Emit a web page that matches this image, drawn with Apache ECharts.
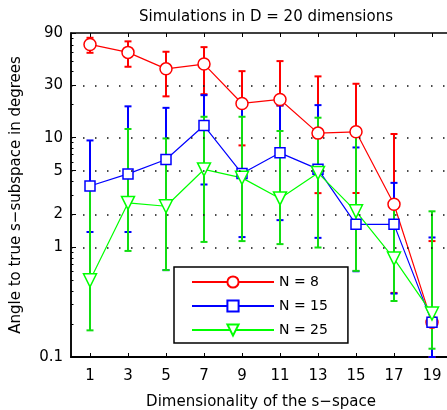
<!DOCTYPE html>
<html>
<head>
<meta charset="utf-8">
<script src="https://cdn.jsdelivr.net/npm/echarts@6/dist/echarts.min.js"></script>
<style>
  html, body { margin: 0; padding: 0; background: #fff; }
  #chart { width: 447px; height: 410px; }
</style>
</head>
<body>
<div id="chart"></div>
<script>
// dimensionality of the s-space
const dims = [1, 3, 5, 7, 9, 11, 13, 15, 17, 19]

// N = 8
const n8 = [70.8, 59.9, 42.4, 46.9, 20.5, 22.3, 11.0, 11.3, 2.47, 0.207]
const n8Lo = [59.4, 44.3, 23.8, 24.9, 8.5, 19.6, 3.12, 3.13, 0.384, 0.1]
const n8Hi = [81.4, 75.5, 60.7, 66.9, 40.4, 49.9, 36.2, 31.0, 10.8, 1.14]

// N = 15
const n15 = [3.62, 4.67, 6.32, 12.9, 4.71, 7.27, 5.16, 1.62, 1.62, 0.207]
const n15Lo = [1.38, 1.38, 0.62, 3.74, 1.24, 1.77, 1.22, 0.605, 0.379, 0.1]
const n15Hi = [9.43, 19.3, 18.7, 24.4, 19.4, 19.7, 19.8, 8.14, 3.87, 1.23]

// N = 25
const n25 = [0.5, 2.54, 2.37, 5.13, 4.3, 2.79, 4.77, 2.13, 0.79, 0.249]
const n25Lo = [0.175, 0.927, 0.62, 1.12, 1.14, 1.07, 0.996, 0.61, 0.324, 0.119]
const n25Hi = [3.6, 12.0, 9.84, 15.5, 15.5, 11.5, 15.2, 11.1, 2.54, 2.13]

const yTicks = [0.1, 1, 2, 5, 10, 30, 90]
const yMinorTicks = [0.2, 0.3, 0.4, 0.5, 0.6, 0.7, 0.8, 0.9, 3, 4, 6, 7, 8, 9, 20, 40, 50, 60, 70, 80]
const yGrid = [1, 2, 5, 10, 30]

const FONT = 'DejaVu Sans, sans-serif'

const chart = echarts.init(document.getElementById('chart'))

function errorBars(name, lo, hi, color) {
  return {
    name: name,
    type: 'custom',
    data: dims.map((d, i) => [d, lo[i], hi[i]]),
    encode: { x: 0, y: [1, 2] },
    silent: true,
    renderItem: function (params, api) {
      const x = api.value(0)
      const top = api.coord([x, api.value(2)])
      const bot = api.coord([x, api.value(1)])
      const w = 3.5
      const style = { stroke: color, lineWidth: 2 }
      return {
        type: 'group',
        children: [
          { type: 'line', shape: { x1: top[0], y1: top[1], x2: bot[0], y2: bot[1] }, style: style },
          { type: 'line', shape: { x1: top[0] - w, y1: top[1], x2: top[0] + w, y2: top[1] }, style: style },
          { type: 'line', shape: { x1: bot[0] - w, y1: bot[1], x2: bot[0] + w, y2: bot[1] }, style: style },
        ],
      }
    },
  }
}

function meanLine(name, vals, color, symbol, size, rotate) {
  return {
    name: name,
    type: 'line',
    data: dims.map((d, i) => [d, vals[i]]),
    symbol: symbol,
    symbolSize: size,
    symbolRotate: rotate || 0,
    showAllSymbol: true,
    lineStyle: { color: color, width: 1.2 },
    itemStyle: { color: '#fff', borderColor: color, borderWidth: 1.5 },
    emphasis: { disabled: true },
    silent: true,
  }
}

chart.setOption({
  animation: false,
  title: {
    text: 'Simulations in D = 20 dimensions',
    left: 261,
    textAlign: 'center',
    top: 5,
    textStyle: { fontFamily: FONT, fontSize: 15, fontWeight: 'normal', color: '#000' },
  },
  grid: {
    left: 71,
    right: -4,
    top: 33,
    bottom: 53,
    containLabel: false,
    outerBoundsMode: 'none',
    show: true,
    borderColor: '#000',
    borderWidth: 1.5,
    backgroundColor: '#fff',
  },
  legend: {
    orient: 'vertical',
    left: 174,
    top: 267,
    data: ['N = 8', 'N = 15', 'N = 25'],
    itemWidth: 82,
    itemHeight: 14,
    itemGap: 10,
    padding: [8, 20, 6, 17],
    backgroundColor: '#fff',
    borderColor: '#000',
    borderWidth: 1.5,
    borderRadius: 0,
    textStyle: { fontFamily: FONT, fontSize: 14, color: '#000' },
    selectedMode: false,
  },
  xAxis: [
    {
      type: 'value',
      min: 0,
      max: 20,
      name: 'Dimensionality of the s\u2212space',
      nameLocation: 'middle',
      nameGap: 38,
      nameTextStyle: { fontFamily: FONT, fontSize: 15, color: '#000' },
      axisLine: { show: true, lineStyle: { color: '#000', width: 2 } },
      axisTick: { show: true, inside: true, length: 4, customValues: dims, lineStyle: { color: '#000' } },
      axisLabel: { customValues: dims, margin: 12, fontFamily: FONT, fontSize: 15, color: '#000' },
      splitLine: { show: false },
    },
    {
      type: 'value',
      position: 'top',
      min: 0,
      max: 20,
      axisLine: { show: false },
      axisTick: { show: true, inside: true, length: 4, customValues: dims, lineStyle: { color: '#000' } },
      axisLabel: { show: false },
      splitLine: { show: false },
    },
  ],
  yAxis: [
    {
      type: 'log',
      logBase: 10,
      min: 0.1,
      max: 90,
      name: 'Angle to true s\u2212subspace in degrees',
      nameLocation: 'middle',
      nameGap: 47,
      nameTextStyle: { fontFamily: FONT, fontSize: 15, color: '#000' },
      axisLine: { show: true, lineStyle: { color: '#000', width: 1.5 } },
      axisTick: { show: true, inside: true, length: 5, customValues: yTicks, lineStyle: { color: '#000' } },
      axisLabel: {
        customValues: yTicks,
        margin: 8,
        fontFamily: FONT,
        fontSize: 15,
        color: '#000',
        formatter: v => String(+(+v).toPrecision(3)),
      },
      splitLine: { show: false },
      minorTick: { show: false },
    },
    {
      type: 'log',
      logBase: 10,
      min: 0.1,
      max: 90,
      position: 'left',
      axisLine: { show: false },
      axisTick: { show: true, inside: true, length: 2.5, customValues: yMinorTicks, lineStyle: { color: '#000' } },
      axisLabel: { show: false },
      splitLine: { show: false },
    },
  ],
  series: [
    {
      name: 'grid',
      type: 'line',
      data: [],
      silent: true,
      markLine: {
        silent: true,
        symbol: ['none', 'none'],
        label: { show: false },
        lineStyle: { color: '#111', width: 1.5, type: [1.5, 10.5] },
        data: yGrid.map(v => ({ yAxis: v })),
      },
    },
    errorBars('bars8', n8Lo, n8Hi, '#ff0000'),
    meanLine('N = 8', n8, '#ff0000', 'circle', 12),
    errorBars('bars15', n15Lo, n15Hi, '#0000ff'),
    meanLine('N = 15', n15, '#0000ff', 'rect', 10),
    errorBars('bars25', n25Lo, n25Hi, '#11dd11'),
    meanLine('N = 25', n25, '#00ff00', 'triangle', 13, 180),
  ],
})
</script>
</body>
</html>
